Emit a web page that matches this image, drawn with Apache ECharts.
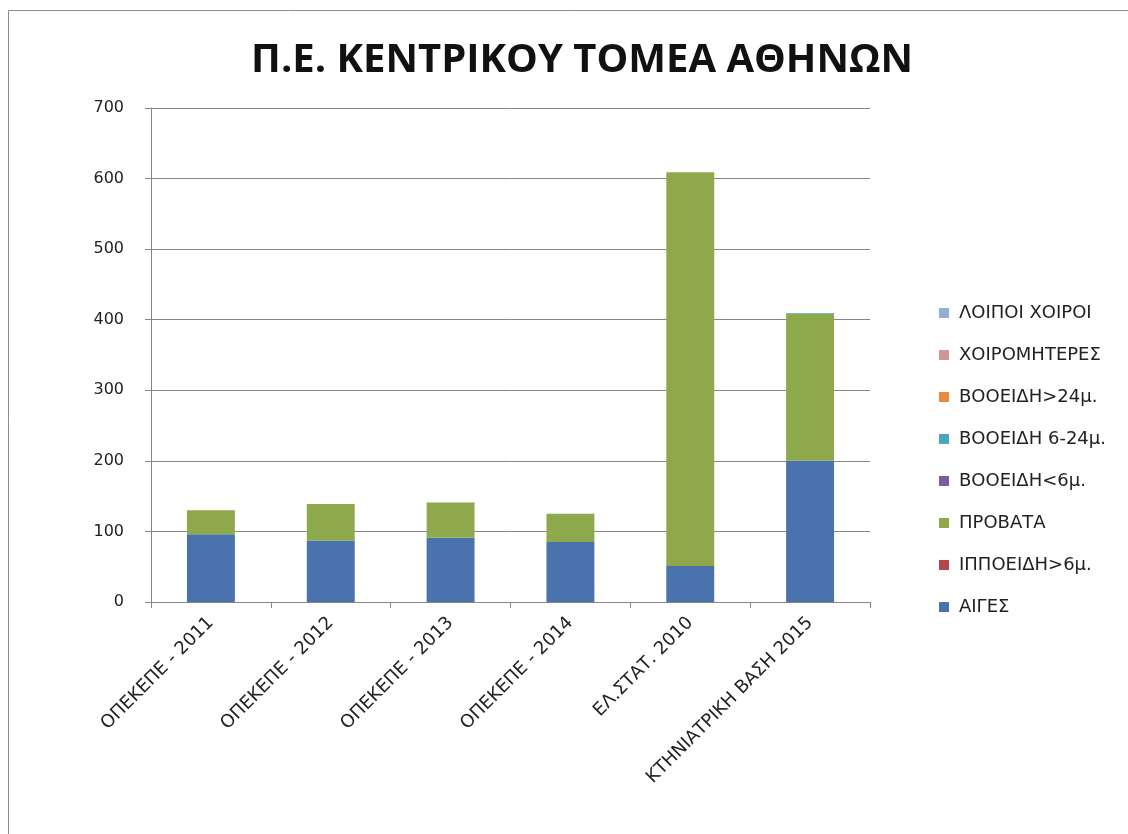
<!DOCTYPE html>
<html>
<head>
<meta charset="utf-8">
<script src="https://cdn.jsdelivr.net/npm/echarts@6/dist/echarts.min.js"></script>
<style>
	html, body { margin: 0; padding: 0; background: #fff; }
	#main { width: 1128px; height: 834px; }
</style>
</head>
<body>
<div id="main"></div>
<script>
/** 数据 */
let categories = ["ΟΠΕΚΕΠΕ - 2011", "ΟΠΕΚΕΠΕ - 2012", "ΟΠΕΚΕΠΕ - 2013", "ΟΠΕΚΕΠΕ - 2014", "ΕΛ.ΣΤΑΤ. 2010", "ΚΤΗΝΙΑΤΡΙΚΗ ΒΑΣΗ 2015"];
let series_names = ["ΑΙΓΕΣ", "ΙΠΠΟΕΙΔΗ>6μ.", "ΠΡΟΒΑΤΑ", "ΒΟΟΕΙΔΗ<6μ.", "ΒΟΟΕΙΔΗ 6-24μ.", "ΒΟΟΕΙΔΗ>24μ.", "ΧΟΙΡΟΜΗΤΕΡΕΣ", "ΛΟΙΠΟΙ ΧΟΙΡΟΙ"];
let aiges = [96, 87, 91, 85, 51, 200];
let ippoeidi = [0, 0, 0, 0, 0, 0];
let provata = [34, 52, 50, 40, 558, 208];
let vooeidi_6 = [0, 0, 0, 0, 0, 0];
let vooeidi_6_24 = [0, 0, 0, 0, 0, 1];
let vooeidi_24 = [0, 0, 0, 0, 0, 0];
let xoiromiteres = [0, 0, 0, 0, 0, 0];
let loipoi_xoiroi = [0, 0, 0, 0, 0, 0];
let y_ticks = [0, 100, 200, 300, 400, 500, 600, 700];

let series_data = [aiges, ippoeidi, provata, vooeidi_6, vooeidi_6_24, vooeidi_24, xoiromiteres, loipoi_xoiroi];
let series_colors = ["#4A72AC", "#B8464A", "#8EA94C", "#7A5F9C", "#47A5BD", "#E98B3C", "#D39494", "#93AED4"];

let chart = echarts.init(document.getElementById("main"));
let font = "'DejaVu Sans', 'Open Sans', sans-serif";

let option = {
	backgroundColor: "#fff",
	animation: false,
	graphic: [
		{
			// 外框
			type: "rect",
			shape: { x: 8.5, y: 10.5, width: 1130, height: 830 },
			style: { fill: "none", stroke: "#8c8c8c", lineWidth: 1 },
			silent: true,
		},
	],
	title: {
		text: "Π.Ε. ΚΕΝΤΡΙΚΟΥ ΤΟΜΕΑ ΑΘΗΝΩΝ",
		left: 577,
		textAlign: "center",
		top: 36,
		textStyle: {
			fontFamily: "'Open Sans', sans-serif",
			fontSize: 40,
			fontWeight: "bold",
			color: "#111",
		},
	},
	legend: {
		orient: "vertical",
		left: 934,
		top: 299,
		itemWidth: 10,
		itemHeight: 10,
		itemGap: 24,
		icon: "rect",
		data: series_names.slice().reverse(),
		textStyle: {
			fontFamily: font,
			fontSize: 18,
			lineHeight: 18,
			color: "#222",
			padding: [0, 0, 0, 5],
		},
	},
	grid: {
		left: 151,
		right: 1128 - 870,
		top: 108,
		bottom: 834 - 602,
		containLabel: false,
	},
	xAxis: {
		type: "category",
		data: categories,
		axisLine: { lineStyle: { color: "#868686" } },
		axisTick: { show: true, alignWithLabel: false, length: 6, lineStyle: { color: "#868686" } },
		axisLabel: {
			rotate: 45,
			interval: 0,
			fontFamily: font,
			fontSize: 18,
			color: "#222",
			margin: 18,
		},
	},
	yAxis: {
		type: "value",
		min: y_ticks[0],
		max: y_ticks[y_ticks.length - 1],
		interval: 100,
		axisLine: { show: true, lineStyle: { color: "#868686" } },
		axisTick: { show: true, length: 6, lineStyle: { color: "#868686" } },
		splitLine: { lineStyle: { color: "#868686", width: 1 } },
		axisLabel: {
			fontFamily: font,
			fontSize: 16,
			color: "#222",
			margin: 27,
		},
	},
	series: series_names.map(function (name, i) {
		return {
			name: name,
			type: "bar",
			stack: "total",
			barWidth: "40%",
			data: series_data[i],
			itemStyle: { color: series_colors[i] },
		};
	}),
};
chart.setOption(option);
</script>
</body>
</html>
